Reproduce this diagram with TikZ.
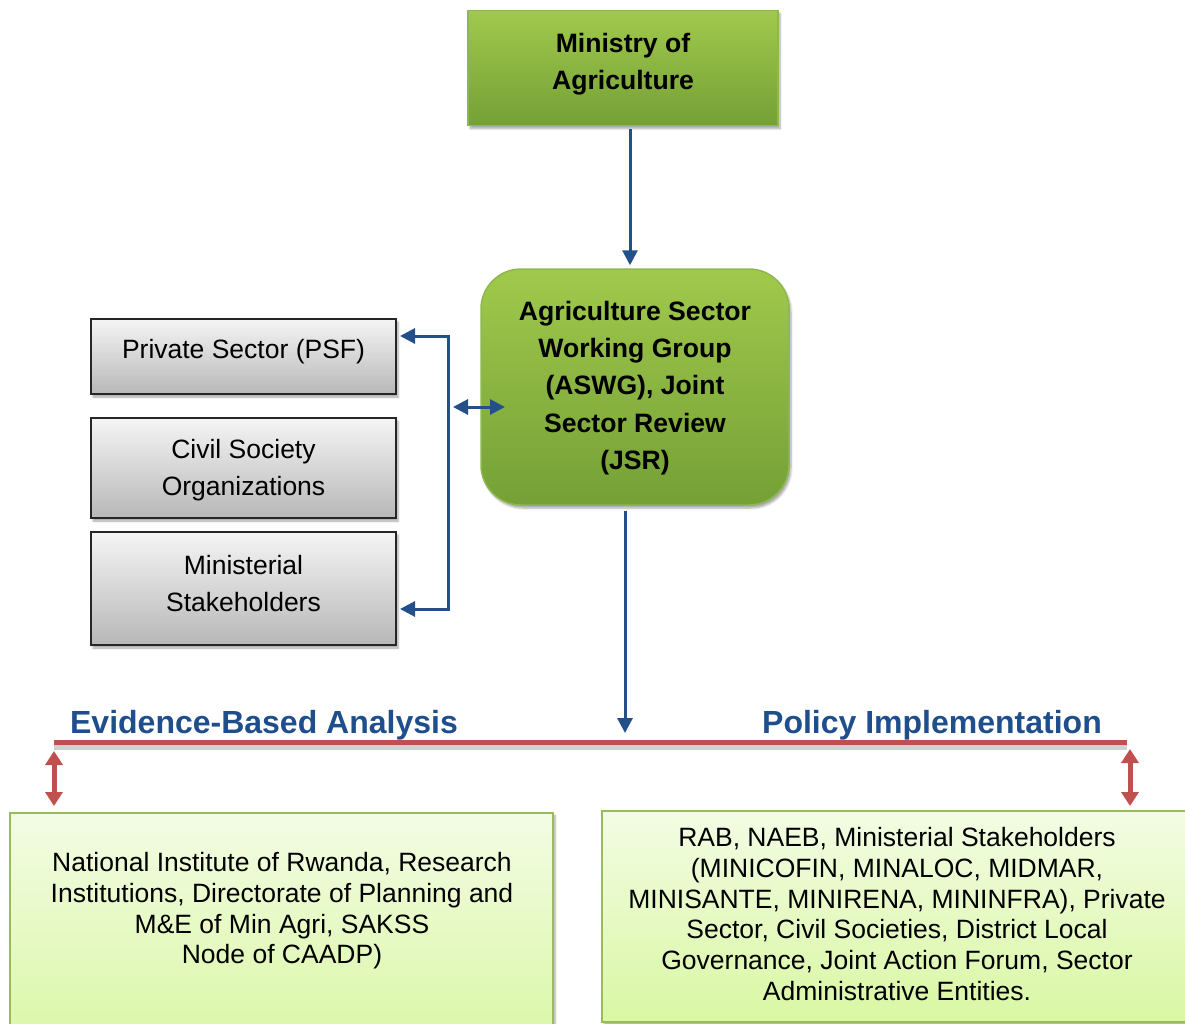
\documentclass[tikz,border=0pt]{standalone}
\usepackage{fontspec}
\setmainfont{Liberation Sans}
\usetikzlibrary{arrows.meta,shadows.blur}
\definecolor{gtop}{HTML}{A0C94C}
\definecolor{gbot}{HTML}{75A036}
\definecolor{gborder}{HTML}{8DB84F}
\definecolor{ltop}{HTML}{F3FCE4}
\definecolor{lbot}{HTML}{D9F7A3}
\definecolor{lborder}{HTML}{9BBB59}
\definecolor{arrblue}{HTML}{24508A}
\definecolor{lblblue}{HTML}{1F4E8C}
\definecolor{accred}{HTML}{C0504D}
\tikzset{
  shadowed/.style={blur shadow={shadow xshift=2pt, shadow yshift=-3pt, shadow blur steps=6, shadow opacity=35}},
  greenbox/.style={draw=gborder, line width=1.5pt, top color=gtop, bottom color=gbot, shadowed, inner sep=0pt},
  boldtext/.style={font=\bfseries\fontsize{26.6}{37.3}\selectfont, align=center, inner sep=0pt},
  graybox/.style={draw=black!85, line width=2pt, top color=black!4, bottom color=black!28, shadowed,
    inner sep=0pt, minimum width=305pt},
  graytext/.style={font=\fontsize{26.5}{37}\selectfont, align=center, inner sep=0pt},
  lightbox/.style={draw=lborder, line width=1.5pt, top color=ltop, bottom color=lbot, shadowed, inner sep=0pt},
  bodytext/.style={font=\fontsize{26.5}{30.7}\selectfont, align=center, inner sep=0pt},
  lbl/.style={font=\bfseries\fontsize{32}{36}\selectfont, text=lblblue, inner sep=0pt},
  bluearrow/.style={draw=arrblue, line width=3pt, -{Triangle[length=15pt,width=15pt]}},
  bluedbl/.style={draw=arrblue, line width=3pt, {Triangle[length=15pt,width=15pt]}-{Triangle[length=15pt,width=15pt]}},
  reddbl/.style={draw=accred, line width=5pt, {Triangle[length=14pt,width=17pt]}-{Triangle[length=14pt,width=17pt]}},
}
\begin{document}
\begin{tikzpicture}[x=1pt,y=-1pt]
\useasboundingbox (0,0) rectangle (1185,1023);
\clip (0,0) rectangle (1185,1023);

% main boxes
\node[greenbox, minimum width=310pt, minimum height=115pt] (min) at (623,68) {};
\node[boldtext] (mint) at (623,64) {Ministry of\\Agriculture};
\node[greenbox, rounded corners=40pt, minimum width=308pt, minimum height=236pt] (aswg) at (635,387) {};
\node[boldtext] (aswgt) at (635,388) {Agriculture Sector\\Working Group\\(ASWG), Joint\\Sector Review\\(JSR)};

% stakeholder boxes
\node[graybox, minimum height=75pt] (psf) at (243.5,356.5) {};
\node[graytext] (psft) at (243.5,352) {Private Sector (PSF)};
\node[graybox, minimum height=100pt] (cso) at (243.5,468) {};
\node[graytext] (csot) at (243.5,470) {Civil Society\\Organizations};
\node[graybox, minimum height=113pt] (mst) at (243.5,588.5) {};
\node[graytext] (mstt) at (243.5,584) {Ministerial\\Stakeholders};

% bottom boxes
\node[lightbox, minimum width=543pt, minimum height=240pt, anchor=north] (bl) at (281.5,812) {};
\node[bodytext] (blt) at (282,911) {National Institute of Rwanda, Research\\Institutions, Directorate of Planning and\\M\&E of Min Agri, SAKSS\\Node of CAADP)};
\node[lightbox, minimum width=588pt, minimum height=211pt, anchor=north] (br) at (896,810) {};
\node[bodytext] (brt) at (897,914) {RAB, NAEB, Ministerial Stakeholders\\(MINICOFIN, MINALOC, MIDMAR,\\MINISANTE, MINIRENA, MININFRA), Private\\Sector, Civil Societies, District Local\\Governance, Joint Action Forum, Sector\\Administrative Entities.};

% labels
\node[lbl] (eba) at (264,725) {Evidence-Based Analysis};
\node[lbl] (pi) at (932,725) {Policy Implementation};

% red line
\coordinate (rl) at (54,742);
\coordinate (rr) at (1127,742);
\draw[black, opacity=0.18, line width=5pt] ([yshift=-5pt]rl) -- ([yshift=-5pt]rr);
\draw[accred, line width=5pt] (rl) -- (rr);

% red double arrows
\draw[reddbl, shorten <=9pt, shorten >=6pt] (rl) -- (rl |- bl.north);
\draw[reddbl, shorten <=7pt, shorten >=4pt] ([xshift=3pt]rr) -- ([xshift=3pt]rr |- br.north);

% blue arrows
\coordinate (xa) at (630,0);
\draw[bluearrow, shorten <=3pt, shorten >=3pt] (min.south -| xa) -- (aswg.north -| xa);
\coordinate (xb) at (625,0);
\draw[bluearrow, shorten <=5pt, shorten >=9pt] (aswg.south -| xb) -- (rl -| xb);

\coordinate (bt) at (448,336);
\coordinate (bb) at (448,609);
\draw[bluedbl, shorten <=3pt, shorten >=3pt, line join=miter] (psf.east |- bt) -- (bt) -- (bb) -- (mst.east |- bb);

\coordinate (da) at (453,407);
\coordinate (db) at (505,407);
\draw[bluedbl] (da) -- (db);
\end{tikzpicture}
\end{document}
